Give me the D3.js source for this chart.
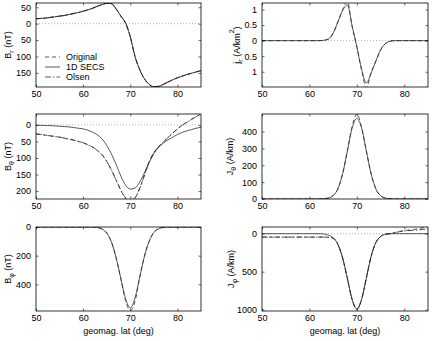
<!DOCTYPE html>
<html lang="en">
	<head>
		<meta charset="utf-8">
		<title>1D SECS comparison</title>
		<script type="text/javascript" src="https://d3js.org/d3.v7.min.js"></script>
		<style type="text/css">
			body { margin: 0; background: #fff; }
			text { font-family: "Liberation Sans", Arial, sans-serif; font-size: 9px; fill: #000; }
			.tick line { stroke: #000; stroke-width: 0.6; }
			.tick text { font-size: 9px; }
		</style>
	</head>
	<body>
		<script type="text/javascript">

			var w = 433;
			var h = 341;

			// geomagnetic latitude grid (deg)
			var lat = [50,51,52,53,54,55,56,57,58,59,60,61,62,63,64,65,66,67,
			           68,69,70,71,72,73,74,75,76,77,78,79,80,81,82,83,84,85];

			// B_r (nT) - all three curves lie on top of each other
			var brSecs = [15,16,17,19,21,23,25,28,31,34,38,42,47,53,58,62,61,45,
			              23,2,-40,-100,-140,-168,-185,-192,-191,-185,-178,-171,-165,-160,-155,-151,-147,-143];

			// j_r (A/km^2)
			var jrSecs = [0,0,0,0,0,0,0,0,0,0,0,0,0,0.01,0.05,0.24,0.6,0.97,
			              1.15,0.48,-0.2,-0.92,-1.36,-1.05,-0.66,-0.3,-0.1,-0.02,0,0,0,0,0,0,0,0];
			var jrOrig = [0,0,0,0,0,0,0,0,0,0,0,0,0,0.01,0.05,0.24,0.6,1.0,
			              1.26,0.45,-0.2,-0.95,-1.52,-1.02,-0.66,-0.3,-0.1,-0.02,0,0,0,0,0,0,0,0];

			// B_theta (nT)
			var bthSecs = [1,1,2,2,3,4,5,6,8,10,12,16,22,30,42,62,88,120,
			               155,182,194,191,173,145,114,87,68,55,45,37,29,23,18,14,10,7];
			var bthOrig = [27,29,31,33,35,37,40,43,46,50,54,60,67,77,90,110,136,167,
			               198,224,232,222,192,152,112,84,66,52,38,25,12,1,-8,-17,-25,-33];
			var bthOlsen = [27,29,31,33,35,37,40,43,46,50,54,60,67,77,90,110,136,167,
			                197,220,228,220,192,152,112,84,66,52,38,25,12,1,-8,-17,-25,-33];

			// J_theta (A/km)
			var jthSecs = [0,0,0,0,0,0,0,0,0,0,0,0,0,2,6,20,60,150,
			               285,420,478,420,285,150,60,20,6,2,0,0,0,0,0,0,0,0];
			var jthOrig = [0,0,0,0,0,0,0,0,0,0,0,0,0,2,6,20,60,150,
			               285,430,505,425,285,150,60,20,6,2,0,0,0,0,0,0,0,0];

			// B_phi (nT)
			var bphSecs = [0,0,0,0,0,0,0,0,0,0,0,0,0,3,14,42,105,215,
			               360,500,565,495,350,205,100,38,12,3,0,0,0,0,0,0,0,0];
			var bphOrig = [0,0,0,0,0,0,0,0,0,0,0,0,0,3,14,42,105,215,
			               362,515,582,520,352,205,100,38,12,3,0,0,0,0,0,0,0,0];

			// J_phi (A/km)
			var jphSecs = [0,0,0,0,0,0,0,0,0,0,0,0,0,3,20,55,140,320,
			               590,865,990,865,585,300,118,38,10,2,0,0,0,0,0,0,0,0];
			var jphOrig = [45,45,45,45,45,45,45,45,45,45,45,45,45,45,48,60,140,320,
			               590,865,1000,865,585,300,118,38,6,0,-15,-30,-40,-48,-56,-65,-78,-92];
			var jphOlsen = [45,45,45,45,45,45,45,45,45,45,45,45,45,45,48,60,140,320,
			                590,865,995,865,585,300,118,38,6,0,-14,-26,-35,-40,-45,-50,-56,-62];

			var xTicks = [50,60,70,80];
			var legendNames = ["Original","1D SECS","Olsen"];

			var dashes = {orig: "4,3", secs: null, olsen: "6,2,1.5,2"};

			var svg = d3.select("body")
						.append("svg")
						.attr("width", w)
						.attr("height", h);

			// label parts: [text, 0 normal | 1 subscript | 2 superscript]
			var panels = [
				{id:"br", x0:36, x1:201, y0:3, y1:87, dom:[-193,63], rev:false,
				 ticks:[50,0,-50,-100,-150], zero:true, ly:11,
				 series:[["orig",brSecs],["olsen",brSecs],["secs",brSecs]],
				 label:[["B",0],["r",1],[" (nT)",0]]},
				{id:"jr", x0:262, x1:428, y0:3, y1:87, dom:[-1.49,1.21], rev:false,
				 ticks:[1,0.5,0,-0.5,-1], zero:true, ly:240,
				 series:[["orig",jrOrig],["secs",jrSecs]],
				 label:[["j",0],["r",1],[" (A/km",0],["2",2],[")",0]]},
				{id:"bth", x0:36, x1:201, y0:114, y1:199, dom:[-33,224], rev:true,
				 ticks:[0,50,100,150,200], zero:true, ly:11,
				 series:[["orig",bthOrig],["olsen",bthOlsen],["secs",bthSecs]],
				 label:[["B",0],["\u03b8",1],[" (nT)",0]]},
				{id:"jth", x0:262, x1:428, y0:114, y1:199, dom:[0,504], rev:false,
				 ticks:[0,100,200,300,400], zero:false, ly:233,
				 series:[["orig",jthOrig],["secs",jthSecs]],
				 label:[["J",0],["\u03b8",1],[" (A/km)",0]]},
				{id:"bph", x0:36, x1:201, y0:227, y1:311, dom:[0,586], rev:true,
				 ticks:[0,200,400], zero:false, ly:11, xlab:true,
				 series:[["orig",bphOrig],["secs",bphSecs]],
				 label:[["B",0],["\u03c6",1],[" (nT)",0]]},
				{id:"jph", x0:262, x1:428, y0:227, y1:311, dom:[-88,1018], rev:true,
				 ticks:[0,500,1000], zero:true, ly:234, xlab:true,
				 series:[["orig",jphOrig],["olsen",jphOlsen],["secs",jphSecs]],
				 label:[["J",0],["\u03c6",1],[" (A/km)",0]]}
			];

			panels.forEach(function(p){
				var x = d3.scaleLinear().domain([50,85]).range([p.x0,p.x1]);
				var y = d3.scaleLinear().domain(p.dom)
							.range(p.rev ? [p.y0,p.y1] : [p.y1,p.y0]);

				var g = svg.append("g");

				svg.append("clipPath").attr("id","clip-"+p.id)
					.append("rect")
					.attr("x",p.x0).attr("y",p.y0)
					.attr("width",p.x1-p.x0).attr("height",p.y1-p.y0);

				if (p.zero){
					g.append("line")
						.attr("x1",p.x0).attr("x2",p.x1)
						.attr("y1",y(0)).attr("y2",y(0))
						.style("stroke","#999")
						.style("stroke-width",0.8)
						.style("stroke-dasharray","1,2");
				}

				var line = d3.line()
							.x(function(d,i){ return x(lat[i]); })
							.y(function(d){ return y(d); })
							.curve(d3.curveMonotoneX);

				g.append("g").attr("clip-path","url(#clip-"+p.id+")")
					.selectAll("path")
					.data(p.series)
					.enter()
					.append("path")
					.attr("d", function(s){ return line(s[1]); })
					.style("fill","none")
					.style("stroke","#222")
					.style("stroke-width",0.75)
					.style("stroke-dasharray", function(s){ return dashes[s[0]]; });

				// box
				g.append("rect")
					.attr("x",p.x0).attr("y",p.y0)
					.attr("width",p.x1-p.x0).attr("height",p.y1-p.y0)
					.style("fill","none").style("stroke","#000").style("stroke-width",0.8);

				var fmt = function(d){ return String(Math.abs(d)); };

				g.append("g").attr("transform","translate("+p.x0+",0)")
					.call(d3.axisLeft(y).tickValues(p.ticks).tickSize(-2.5).tickPadding(5).tickFormat(fmt))
					.call(function(a){ a.select(".domain").remove(); });
				g.append("g").attr("transform","translate("+p.x1+",0)")
					.call(d3.axisRight(y).tickValues(p.ticks).tickSize(-2.5).tickFormat(""))
					.call(function(a){ a.select(".domain").remove(); });
				g.append("g").attr("transform","translate(0,"+p.y1+")")
					.call(d3.axisBottom(x).tickValues(xTicks).tickSize(-2.5).tickPadding(4).tickFormat(d3.format("d")))
					.call(function(a){ a.select(".domain").remove(); });
				g.append("g").attr("transform","translate(0,"+p.y0+")")
					.call(d3.axisTop(x).tickValues(xTicks).tickSize(-2.5).tickFormat(""))
					.call(function(a){ a.select(".domain").remove(); });

				g.selectAll(".tick text")
					.style("font-family","'Liberation Sans', Arial, sans-serif")
					.style("font-size","9px");

				// y label with sub/superscripts
				var lab = g.append("text")
							.attr("transform","translate("+p.ly+","+((p.y0+p.y1)/2)+") rotate(-90)")
							.attr("text-anchor","middle");
				var shift = 0;
				p.label.forEach(function(part){
					var t = lab.append("tspan").text(part[0]);
					var target = part[1] == 1 ? 3 : (part[1] == 2 ? -6 : 0);
					if (target != shift) t.attr("dy", target - shift);
					if (part[1] != 0) t.style("font-size","7px");
					shift = target;
				});

				if (p.xlab){
					g.append("text")
						.attr("x",(p.x0+p.x1)/2).attr("y",334)
						.attr("text-anchor","middle")
						.text("geomag. lat (deg)");
				}
			});

			// legend in the B_r panel
			var leg = svg.append("g");
			var legKeys = ["orig","secs","olsen"];
			legKeys.forEach(function(k,i){
				var yy = 57 + i*10;
				leg.append("line")
					.attr("x1",45).attr("x2",60).attr("y1",yy).attr("y2",yy)
					.style("stroke","#222").style("stroke-width",0.75)
					.style("stroke-dasharray",dashes[k]);
				leg.append("text")
					.attr("x",66).attr("y",yy+3)
					.text(legendNames[i]);
			});

		</script>
	</body>
</html>
